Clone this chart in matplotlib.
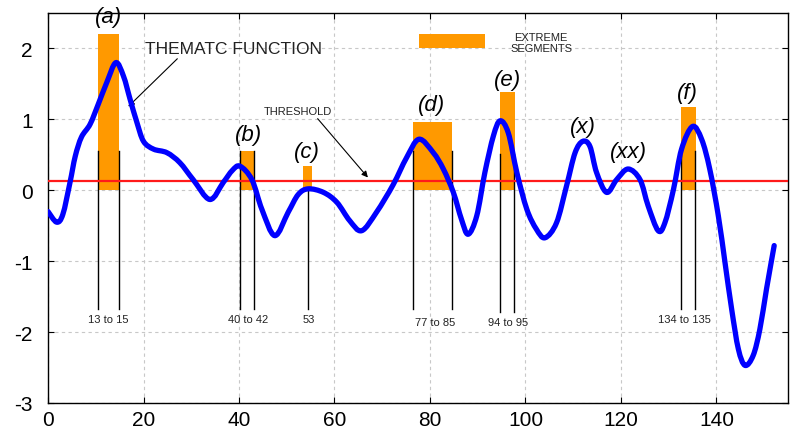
import numpy as np
import matplotlib.pyplot as plt
from matplotlib.path import Path
from matplotlib.patches import PathPatch

plt.rcParams['font.family'] = ['Liberation Sans', 'DejaVu Sans']
plt.rcParams['axes.unicode_minus'] = False

# thematic function samples
fx = [0.0, 1.8, 3.1, 4.6, 5.7, 7.0, 8.8, 10.5, 12.3, 14.2, 15.8, 17.2, 18.6, 20.0,
      22.1, 24.9, 27.6, 30.4, 33.9, 36.7, 38.6, 40.2, 42.7, 44.8, 47.5, 50.3, 52.4,
      54.5, 57.7, 60.5, 63.2, 65.7, 68.8, 72.3, 75.1, 77.7, 80.7, 82.8, 84.9, 86.6,
      88.0, 89.8, 91.5, 93.3, 94.7, 96.4, 98.2, 100.3, 102.3, 104.1, 106.5, 108.6,
      110.4, 112.0, 113.5, 114.9, 117.0, 119.1, 121.5, 124.0, 125.7, 127.8, 129.2,
      131.0, 132.7, 135.0, 136.9, 138.6, 140.4, 141.8, 143.2, 144.6, 146.0, 147.7,
      149.1, 150.5, 152.1]
fy = [-0.30, -0.45, -0.34, 0.11, 0.48, 0.75, 0.93, 1.21, 1.52, 1.80, 1.61, 1.28,
      0.96, 0.69, 0.58, 0.53, 0.39, 0.15, -0.13, 0.11, 0.28, 0.34, 0.15, -0.27,
      -0.64, -0.31, -0.06, 0.02, -0.03, -0.17, -0.43, -0.57, -0.31, 0.08, 0.46,
      0.72, 0.53, 0.30, -0.03, -0.41, -0.62, -0.36, 0.25, 0.77, 0.98, 0.81, 0.25,
      -0.27, -0.55, -0.67, -0.46, 0.06, 0.53, 0.69, 0.62, 0.25, -0.03, 0.15, 0.30,
      0.15, -0.22, -0.57, -0.46, 0.01, 0.58, 0.90, 0.72, 0.30, -0.36, -1.02, -1.68,
      -2.24, -2.47, -2.33, -1.96, -1.39, -0.78]

threshold = 0.13

# extreme segments: bar start/end on x axis, bar height
seg_names = ['(a)', '(b)', '(c)', '(d)', '(e)', '(f)']
seg_start = [10.5, 40.2, 53.4, 76.4, 94.7, 132.6]
seg_end = [14.9, 43.1, 55.3, 84.6, 97.8, 135.7]
seg_height = [2.21, 0.55, 0.34, 0.96, 1.38, 1.17]
seg_ranges = ['13 to 15', '40 to 42', '53', '77 to 85', '94 to 95', '134 to 135']

# marker lines below each segment
line_x = [[10.5, 14.9], [40.2, 43.1], [54.5], [76.4, 84.6], [94.6, 97.7], [132.5, 135.6]]
line_top = [0.55, 0.55, 0.02, 0.55, 0.51, 0.55]
line_bottom = [-1.68, -1.68, -1.68, -1.68, -1.72, -1.68]
range_label_x = [12.6, 41.9, 54.6, 81.0, 96.3, 133.2]
range_label_y = [-1.82, -1.82, -1.82, -1.86, -1.86, -1.82]

# italic letters over the peaks
peak_names = ['(a)', '(b)', '(c)', '(d)', '(e)', '(x)', '(xx)', '(f)']
peak_x = [12.6, 41.9, 54.2, 80.4, 96.3, 112.0, 121.5, 134.0]
peak_y = [2.45, 0.79, 0.54, 1.21, 1.56, 0.90, 0.54, 1.38]


def smooth_path(xs, ys):
    # catmull-rom through the samples, written as cubic bezier segments
    p = np.column_stack([xs, ys])
    verts = [p[0]]
    codes = [Path.MOVETO]
    for i in range(len(p) - 1):
        p0 = p[i - 1] if i > 0 else p[i]
        p3 = p[i + 2] if i + 2 < len(p) else p[i + 1]
        c1 = p[i] + (p[i + 1] - p0) / 6.0
        c2 = p[i + 1] - (p3 - p[i]) / 6.0
        verts += [c1, c2, p[i + 1]]
        codes += [Path.CURVE4] * 3
    return Path(verts, codes)


fig = plt.figure(figsize=(7.98, 4.35), dpi=100)
ax = fig.add_axes([0.0602, 0.0713, 0.9273, 0.8965])

orange = '#ff9900'
for s, e, h in zip(seg_start, seg_end, seg_height):
    ax.bar(s, h, width=e - s, align='edge', color=orange, zorder=2)

for xs, t, b in zip(line_x, line_top, line_bottom):
    for xv in xs:
        ax.plot([xv, xv], [b, t], color='black', lw=1.0, zorder=3)

for lab, xv, yv in zip(seg_ranges, range_label_x, range_label_y):
    ax.text(xv, yv, lab, fontsize=8, ha='center', va='center', color='#222222')

ax.axhline(threshold, color='#ff1a1a', lw=1.6, zorder=4)
ax.add_patch(PathPatch(smooth_path(fx, fy), facecolor='none', edgecolor='#0000ff',
                       lw=3.8, zorder=5, joinstyle='round', capstyle='round'))

for lab, xv, yv in zip(peak_names, peak_x, peak_y):
    ax.text(xv, yv, lab, fontsize=16, style='italic', ha='center', va='center',
            clip_on=False, zorder=6)

# legend patch
ax.bar(77.7, 0.2, width=13.8, bottom=2.01, align='edge', color=orange, zorder=2)
ax.text(103.3, 2.08, 'EXTREME\nSEGMENTS', fontsize=8, ha='center', va='center',
        linespacing=1.15, color='#222222')

ax.annotate('THEMATC FUNCTION', xy=(16.8, 1.18), xytext=(38.8, 2.0),
            fontsize=12.5, ha='center', va='center', color='#222222',
            arrowprops=dict(arrowstyle='-|>', color='black', lw=0.8,
                            mutation_scale=9, shrinkA=0, shrinkB=0,
                            relpos=(0.2, 0.0)))
ax.annotate('THRESHOLD', xy=(67.0, 0.18), xytext=(52.4, 1.12),
            fontsize=8, ha='center', va='center', color='#222222',
            arrowprops=dict(arrowstyle='-|>', color='black', lw=0.8,
                            mutation_scale=9, shrinkA=0, shrinkB=0,
                            relpos=(0.75, 0.0)))

ax.set_xlim(0, 155)
ax.set_ylim(-3, 2.5)
ax.set_xticks(np.arange(0, 141, 20))
ax.set_yticks(np.arange(-3, 3, 1))
ax.grid(True, color='#c8c8c8', ls=(0, (3, 3)), lw=0.8)
ax.set_axisbelow(True)
ax.tick_params(direction='in', top=True, right=True, labelsize=15,
               length=4, width=0.8)
ax.tick_params(axis='y', pad=11)
ax.tick_params(axis='x', pad=5)
for sp in ax.spines.values():
    sp.set_linewidth(1.0)

fig.savefig('out.png', dpi=100)
